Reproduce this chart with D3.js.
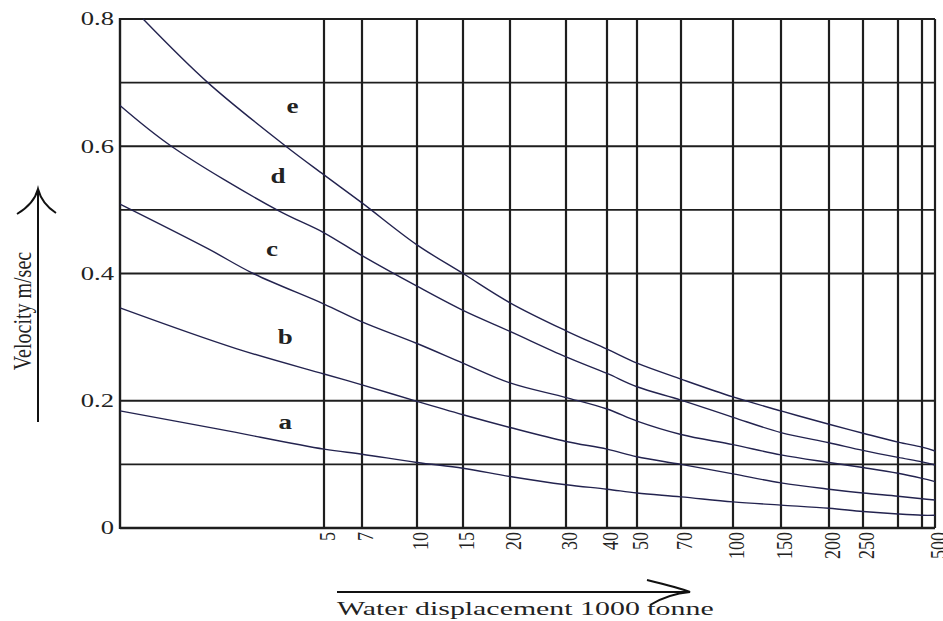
<!DOCTYPE html>
<html>
<head>
<meta charset="utf-8">
<script src="https://cdn.jsdelivr.net/npm/d3@7"></script>
<style>
  body { margin: 0; background: #fff; }
  svg { display: block; }
  text { font-family: "Liberation Serif", "DejaVu Serif", serif; fill: #222; }
</style>
</head>
<body>
<div id="container"></div>
<script>
// x axis: displacement (1000 tonne), drawn on a hand-ruled log grid
var xStops   = [1, 5, 7, 10, 15, 20, 30, 40, 50, 70, 100, 150, 200, 250, 300, 400, 500];
var xStopPx  = [120, 324, 362, 417, 463, 510, 566, 607, 637, 681, 733, 781, 829, 863, 898, 922, 935];
var xTickLabels = [5, 7, 10, 15, 20, 30, 40, 50, 70, 100, 150, 200, 250, 500];
var yGrid = [0.1, 0.2, 0.4, 0.5, 0.6, 0.7, 0.8];
var yTickLabels = [0, 0.2, 0.4, 0.6, 0.8];

// velocity curves (m/sec), [displacement, velocity]
var curveA = [[1,0.184],[2.2,0.155],[5,0.124],[7,0.116],[10,0.103],[15,0.094],[20,0.081],[30,0.068],[40,0.061],[50,0.055],[70,0.049],[100,0.041],[150,0.036],[200,0.031],[250,0.026],[300,0.022],[400,0.020],[500,0.020]];
var curveB = [[1,0.346],[2.5,0.282],[5,0.242],[7,0.225],[10,0.199],[15,0.178],[20,0.158],[30,0.136],[40,0.124],[50,0.112],[70,0.10],[100,0.085],[150,0.071],[200,0.061],[250,0.055],[300,0.050],[400,0.046],[500,0.044]];
var curveC = [[1,0.509],[2,0.439],[2.86,0.40],[5,0.352],[7,0.324],[10,0.29],[15,0.259],[20,0.228],[30,0.205],[40,0.187],[50,0.168],[70,0.147],[100,0.131],[150,0.115],[200,0.103],[250,0.095],[300,0.086],[400,0.078],[500,0.073]];
var curveD = [[1,0.664],[1.5,0.60],[3.45,0.50],[5,0.464],[7,0.428],[10,0.38],[15,0.342],[20,0.309],[30,0.269],[40,0.243],[50,0.222],[70,0.201],[100,0.174],[150,0.150],[200,0.134],[250,0.122],[300,0.111],[400,0.104],[500,0.099]];
var curveE = [[1.2,0.8],[2,0.70],[3.7,0.60],[5,0.555],[7,0.511],[10,0.445],[15,0.40],[20,0.354],[30,0.31],[40,0.281],[50,0.259],[70,0.234],[100,0.206],[150,0.184],[200,0.163],[250,0.149],[300,0.135],[400,0.127],[500,0.121]];
var curveNames = ["a", "b", "c", "d", "e"];
var curveLabelAt = [[3.68,0.165],[3.68,0.299],[3.32,0.437],[3.48,0.553],[3.9,0.662]];

var W = 943, H = 621;
var svg = d3.select("div#container").append("svg").attr("width", W).attr("height", H);

var xScale = d3.scaleLog().domain(xStops).range(xStopPx);
var yScale = d3.scaleLinear().domain([0, 0.8]).range([528, 19]);

var x0 = xScale(1), x1 = xScale(500), yTop = yScale(0.8), yBot = yScale(0);
var ink = "#1e1e1e";

// vertical grid lines
svg.append("g").selectAll("line")
   .data(xStops.slice(1))
   .enter().append("line")
   .attr("x1", d => xScale(d)).attr("x2", d => xScale(d))
   .attr("y1", yTop).attr("y2", yBot)
   .attr("stroke", ink).attr("stroke-width", 2.2);

// horizontal grid lines
svg.append("g").selectAll("line")
   .data(yGrid)
   .enter().append("line")
   .attr("x1", x0).attr("x2", x1)
   .attr("y1", d => yScale(d)).attr("y2", d => yScale(d))
   .attr("stroke", ink).attr("stroke-width", 1.8);

// axes frame (left + bottom)
svg.append("line").attr("x1", x0).attr("x2", x0).attr("y1", yTop - 1).attr("y2", yBot + 1)
   .attr("stroke", ink).attr("stroke-width", 2.4);
svg.append("line").attr("x1", x0).attr("x2", x1).attr("y1", yBot).attr("y2", yBot)
   .attr("stroke", ink).attr("stroke-width", 2.4);

// curves
var line = d3.line()
   .curve(d3.curveCatmullRom.alpha(0.5))
   .x(d => xScale(d[0]))
   .y(d => yScale(d[1]));

var curves = [curveA, curveB, curveC, curveD, curveE];
svg.append("g").selectAll("path")
   .data(curves)
   .enter().append("path")
   .attr("d", line)
   .attr("fill", "none")
   .attr("stroke", "#23234f")
   .attr("stroke-width", 1.4);

// curve letters
svg.append("g").selectAll("text")
   .data(curveNames)
   .enter().append("text")
   .attr("transform", (d, i) => "translate(" + xScale(curveLabelAt[i][0]) + "," + yScale(curveLabelAt[i][1]) + ") scale(1.35,1)")
   .attr("text-anchor", "middle")
   .attr("dy", "0.32em")
   .style("font-size", "20px")
   .style("font-weight", "bold")
   .text(d => d);

// y tick labels
svg.append("g").selectAll("text")
   .data(yTickLabels)
   .enter().append("text")
   .attr("transform", d => "translate(" + (x0 - 6) + "," + yScale(d) + ") scale(1.4,1)")
   .attr("text-anchor", "end")
   .attr("dy", "0.33em")
   .style("font-size", "19px")
   .text(d => d === 0 ? "0" : d3.format(".1f")(d));

// x tick labels (rotated)
svg.append("g").selectAll("text")
   .data(xTickLabels)
   .enter().append("text")
   .attr("transform", d => "translate(" + (xScale(d) + 3) + "," + (yBot + 4) + ") scale(1.3,1) rotate(-90)")
   .attr("text-anchor", "end")
   .attr("dy", "0.35em")
   .style("font-size", "18px")
   .text(d => d);

// y axis title with arrow
var arrowStroke = "#111";
svg.append("line").attr("x1", 38).attr("x2", 38).attr("y1", 189).attr("y2", 422)
   .attr("stroke", arrowStroke).attr("stroke-width", 2);
svg.append("path")
   .attr("d", "M17,214 Q34,204 38,189 Q42,204 56,213")
   .attr("fill", "none").attr("stroke", arrowStroke).attr("stroke-width", 2);
svg.append("text")
   .attr("transform", "translate(22,311) scale(1.3,1) rotate(-90)")
   .attr("text-anchor", "middle")
   .attr("dy", "0.35em")
   .style("font-size", "20px")
   .text("Velocity m/sec");

// x axis title with arrow
svg.append("line").attr("x1", 337).attr("x2", 689).attr("y1", 592).attr("y2", 592)
   .attr("stroke", arrowStroke).attr("stroke-width", 2);
svg.append("path")
   .attr("d", "M647,580 Q680,588 690,592 Q668,594 650,605")
   .attr("fill", "none").attr("stroke", arrowStroke).attr("stroke-width", 2);
svg.append("text")
   .attr("transform", "translate(337,615) scale(1.66,1)")
   .attr("text-anchor", "start")
   .style("font-size", "18px")
   .text("Water displacement 1000 tonne");
</script>
</body>
</html>
